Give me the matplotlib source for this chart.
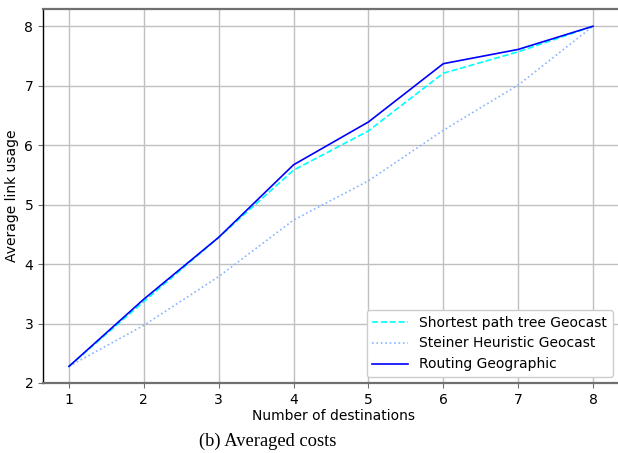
import matplotlib
matplotlib.use("Agg")
import matplotlib.pyplot as plt

# data
destinations = [1, 2, 3, 4, 5, 6, 7, 8]
shortest_path = [2.28, 3.37, 4.45, 5.58, 6.24, 7.21, 7.57, 8.0]
steiner = [2.28, 2.97, 3.79, 4.74, 5.40, 6.25, 7.01, 8.0]
routing_geo = [2.28, 3.41, 4.45, 5.67, 6.39, 7.37, 7.61, 8.0]

fig = plt.figure(figsize=(6.18, 4.53), dpi=100)
# axes run a bit past the right edge, as in the cropped original
ax = fig.add_axes([43 / 618, 70 / 453, (625 - 43) / 618, (383 - 9) / 453])

ax.plot(destinations, shortest_path, linestyle="--", color="cyan", linewidth=1.2,
        label="Shortest path tree Geocast")
ax.plot(destinations, steiner, linestyle=":", color="#88b4ff", linewidth=1.2,
        label="Steiner Heuristic Geocast")
ax.plot(destinations, routing_geo, linestyle="-", color="blue", linewidth=1.2,
        label="Routing Geographic")

ax.set_xlim(0.653, 0.653 + 582 / 74.86)
ax.set_ylim(2, 8.29)
ax.set_xticks(destinations)
ax.set_yticks([2, 3, 4, 5, 6, 7, 8])

ax.grid(True, color="#c0c0c0", linewidth=1.0)
ax.set_axisbelow(True)

for side in ["top", "bottom", "right"]:
    ax.spines[side].set_color("#707070")
    ax.spines[side].set_linewidth(1.6)
ax.spines["left"].set_color("black")
ax.spines["left"].set_linewidth(1.0)
ax.tick_params(axis="both", color="#707070", labelsize=10, length=3.5)

ax.set_xlabel("Number of destinations", fontsize=10, labelpad=2)
ax.set_ylabel("Average link usage", fontsize=10, labelpad=4)

leg = ax.legend(loc="lower right", fontsize=10, framealpha=1.0, edgecolor="#cccccc",
                bbox_to_anchor=((617 - 43) / 582, 0.005), handlelength=2.6,
                borderaxespad=0.3)

fig.text(268 / 618, 1 - 441 / 453, "(b) Averaged costs", ha="center", va="center",
         family="Liberation Serif", fontsize=13.3)

fig.savefig("out.png", dpi=100)
